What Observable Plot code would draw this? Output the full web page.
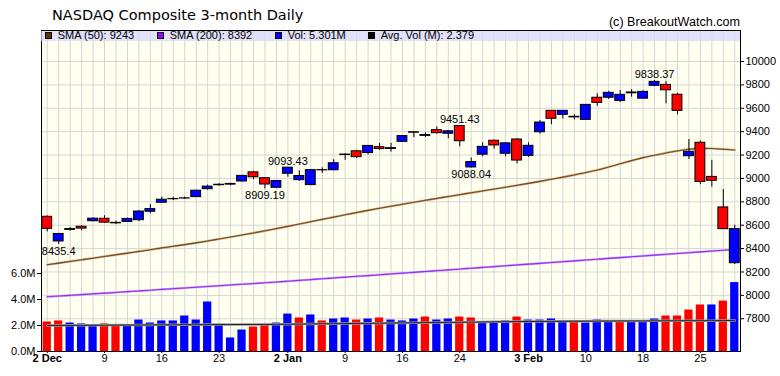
<!DOCTYPE html>
<html><head><meta charset="utf-8">
<script src="https://cdn.jsdelivr.net/npm/d3@7"></script>
<script src="https://cdn.jsdelivr.net/npm/@observablehq/plot@0.6"></script>
<style>
body{margin:0;background:#fff;}
#chart{position:relative;width:780px;height:376px;overflow:hidden;font-family:"Liberation Sans",Arial,sans-serif;}
#chart svg{position:absolute;left:0;top:0;}
.title{position:absolute;left:52px;top:7.5px;font:14.5px "DejaVu Sans";line-height:14px;color:#000;white-space:nowrap;}
.copy{position:absolute;right:40px;top:16px;font:12.6px "Liberation Sans";line-height:12px;color:#000;white-space:nowrap;}
.band{position:absolute;left:41px;top:31px;width:699px;height:10px;background:rgba(215,215,250,0.75);z-index:5;}
.item{position:absolute;top:0;height:10px;}
.sw{position:absolute;left:0;top:1px;width:5px;height:5px;border:1px solid #000;}
.lt{position:absolute;left:12.7px;top:-1.3px;font:11px "Liberation Sans";line-height:11px;white-space:nowrap;color:#000;}
</style></head>
<body>
<div id="chart">
  <div class="title">NASDAQ Composite 3-month Daily</div>
  <div class="copy">(c) BreakoutWatch.com</div>
</div>
<script>
// ---- data ----
const dates = ["2 Dec","3 Dec","4 Dec","5 Dec","6 Dec","9 Dec","10 Dec","11 Dec","12 Dec","13 Dec",
  "16 Dec","17 Dec","18 Dec","19 Dec","20 Dec","23 Dec","24 Dec","26 Dec","27 Dec","30 Dec","31 Dec",
  "2 Jan","3 Jan","6 Jan","7 Jan","8 Jan","9 Jan","10 Jan","13 Jan","14 Jan","15 Jan","16 Jan","17 Jan",
  "21 Jan","22 Jan","23 Jan","24 Jan","27 Jan","28 Jan","29 Jan","30 Jan","31 Jan",
  "3 Feb","4 Feb","5 Feb","6 Feb","7 Feb","10 Feb","11 Feb","12 Feb","13 Feb","14 Feb",
  "18 Feb","19 Feb","20 Feb","21 Feb","24 Feb","25 Feb","26 Feb","27 Feb","28 Feb"];
const open  = [8672,8461,8560,8587,8634,8655,8620,8628,8643,8715,8792,8822,8830,8840,8908,8942,8947,8974,9052,9002,8920,
  9040,8985,8943,9071,9070,9200,9232,9217,9267,9252,9313,9395,9364,9413,9382,9448,9094,9203,9322,9211,9333,
  9193,9395,9578,9544,9522,9501,9690,9690,9663,9728,9682,9792,9800,9716,9190,9305,9013,8752,8275];
const high  = [8680,8530,8580,8597,8664,8681,8636,8660,8725,8777,8840,8840,8840,8900,8942,8956,8957,9023,9060,9006,8980,
  9093.43,9065,9072,9091,9160,9211,9240,9280,9300,9300,9360,9398,9390,9440,9410,9451.43,9175,9305,9330,9305,9338,
  9305,9495,9578,9578,9545,9630,9724,9745,9752,9758,9750,9838.37,9828,9728,9333,9320,9155,8905,8600];
const low   = [8543,8435.4,8550,8552,8630,8615,8605,8625,8630,8698,8790,8810,8821,8838,8900,8935,8937,8970,8988,8909.19,8915,
  9010,8975,8943,9043,9065,9155,9170,9200,9240,9225,9310,9348,9350,9380,9339,9270,9088.04,9185,9250,9185,9125,
  9180,9378,9459,9507,9500,9500,9617,9675,9650,9695,9680,9785,9638,9544,9162,8946,8925,8563,8264];
const close = [8569,8525,8567,8571,8656,8622,8616,8654,8717,8738,8818,8824,8828,8895,8930,8946,8953,9022,9010,8948,8978,
  9092,9021,9071,9069,9130,9204,9182,9278,9251,9259,9362,9391,9371,9387,9403,9318,9140,9270,9282,9300,9153,
  9279,9478,9510,9578,9527,9629,9646,9732,9715,9735,9740,9826,9754,9578,9228,8970,8980,8566,8567];
const priorClose = 8665;
const volume = [2.27,2.35,2.19,2.12,2.04,2.12,2.04,1.96,2.42,2.19,2.35,2.35,2.73,2.42,3.81,2.06,1.04,1.65,1.88,2.06,2.19,
  2.88,2.58,2.81,2.35,2.50,2.58,2.42,2.50,2.58,2.42,2.35,2.50,2.65,2.42,2.50,2.65,2.58,2.22,2.24,2.35,2.65,
  2.42,2.42,2.50,2.27,2.27,2.19,2.42,2.35,2.27,2.27,2.27,2.50,2.73,2.73,3.19,3.58,3.58,3.88,5.301];
const sma50 = [8262,8276,8290,8304,8318,8333,8347,8361,8376,8390,8406,8420,8434,8449,8465,8482,8499,8516,8534,8552,8571,
  8590,8610,8630,8650,8669,8689,8708,8727,8745,8762,8779,8796,8813,8829,8845,8861,8877,8893,8909,8925,8941,
  8958,8975,8993,9011,9030,9050,9072,9098,9125,9152,9178,9198,9218,9235,9250,9257,9256,9250,9243];
const sma200 = [7988,7994,8000,8006,8013,8019,8025,8032,8038,8044,8051,8057,8063,8070,8076,8082,8089,8095,8101,8108,8114,
  8121,8128,8135,8142,8149,8156,8163,8169,8176,8183,8190,8197,8204,8211,8218,8225,8232,8239,8246,8253,8260,
  8267,8274,8281,8288,8295,8302,8309,8316,8323,8330,8337,8344,8351,8358,8365,8372,8379,8386,8392];
const avgVol = [2.00,2.00,2.01,2.01,2.02,2.02,2.03,2.03,2.04,2.04,2.05,2.05,2.06,2.06,2.07,2.07,2.07,2.08,2.08,2.08,2.09,
  2.10,2.11,2.12,2.13,2.14,2.15,2.16,2.17,2.18,2.19,2.20,2.21,2.22,2.23,2.24,2.25,2.26,2.27,2.28,2.29,2.30,
  2.31,2.31,2.32,2.32,2.33,2.33,2.34,2.34,2.35,2.35,2.35,2.36,2.36,2.36,2.37,2.37,2.37,2.38,2.379];
const priceTicks = [7800,8000,8200,8400,8600,8800,9000,9200,9400,9600,9800,10000];
const volTicks = [0,2,4,6];
const xTickIdx = [0,5,10,15,21,26,31,36,42,47,52,57];
const xTickLabels = ["2 Dec","9","16","23","2 Jan","9","16","24","3 Feb","10","18","25"];
const xTickBold = [true,false,false,false,true,false,false,false,true,false,false,false];
const highLabels = [{i:21,v:9093.43},{i:36,v:9451.43},{i:53,v:9838.37}];
const lowLabels  = [{i:1,v:8435.4},{i:19,v:8909.19},{i:37,v:9088.04}];

// ---- build ----
const rows = dates.map((d,i)=>({i, o:open[i], h:high[i], l:low[i], c:close[i], v:volume[i],
  s50:sma50[i], s200:sma200[i], av:avgVol[i], up: close[i] > (i ? close[i-1] : priorClose)}));
const N = dates.length;
const common = {width:780, height:376, marginLeft:41, marginRight:40, marginTop:30, marginBottom:25,
  x:{domain:[-0.5, N-0.5], axis:null, label:null}};
const style = {background:"transparent", fontFamily:"Liberation Sans, Arial, sans-serif", fontSize:"11px", color:"#000", overflow:"visible"};
const tickLab = xTickIdx.map((x,k)=>({x, t:xTickLabels[k], b:xTickBold[k]}));

const price = Plot.plot({...common, style,
  y:{domain:[7520,10265], axis:null, label:null},
  marks:[
    Plot.frame({fill:"#fffff0"}),
    Plot.ruleX(rows, {x:"i", stroke:"#d6d6d6"}),
    Plot.ruleY(priceTicks, {stroke:"#d6d6d6"}),
    Plot.line(rows, {x:"i", y:"s200", stroke:"#c9a0ff", strokeWidth:2.2, curve:"monotone-x"}),
    Plot.line(rows, {x:"i", y:"s200", stroke:"#9a2cf0", strokeWidth:1.1, curve:"monotone-x"}),
    Plot.line(rows, {x:"i", y:"s50", stroke:"#c8aa88", strokeWidth:2.2, curve:"monotone-x"}),
    Plot.line(rows, {x:"i", y:"s50", stroke:"#7a4a1e", strokeWidth:1.1, curve:"monotone-x"}),
    Plot.ruleX(rows, {x:"i", y1:"l", y2:"h", stroke:"#000"}),
    Plot.rect(rows, {x1:d=>d.i-0.43, x2:d=>d.i+0.43, y1:"o", y2:"c",
      fill:d=>d.c>=d.o?"#0000ff":"#ff0000", stroke:"#000", strokeWidth:1}),
    Plot.text(highLabels, {x:"i", y:"v", text:d=>String(d.v), lineAnchor:"bottom", dy:-2.5, fontSize:11, fill:"#000"}),
    Plot.text(lowLabels, {x:"i", y:"v", text:d=>String(d.v), lineAnchor:"top", dy:2.5, fontSize:11, fill:"#000"}),
    Plot.axisY(priceTicks, {anchor:"right", label:null, tickSize:3, tickPadding:2, tickFormat:d=>String(d), fontSize:11}),
    Plot.axisX(tickLab.filter(d=>!d.b).map(d=>d.x), {anchor:"bottom", label:null, tickSize:2, tickPadding:1,
      tickFormat:d=>tickLab.find(t=>t.x===d).t, fontSize:11}),
    Plot.axisX(tickLab.filter(d=>d.b).map(d=>d.x), {anchor:"bottom", label:null, tickSize:2, tickPadding:1,
      tickFormat:d=>tickLab.find(t=>t.x===d).t, fontSize:11, fontWeight:"bold"})
  ]
});

const vol = Plot.plot({...common, style,
  y:{domain:[0, 321/13], axis:null, label:null},
  marks:[
    Plot.rect(rows, {x1:d=>d.i-0.36, x2:d=>d.i+0.36, y1:0, y2:"v", fill:d=>d.up?"#0000ff":"#ff0000"}),
    Plot.line(rows, {x:"i", y:"av", stroke:"#999", strokeWidth:2.5}),
    Plot.line(rows, {x:"i", y:"av", stroke:"#222", strokeWidth:1}),
    Plot.axisY(volTicks, {anchor:"left", label:null, tickSize:4, tickPadding:2, tickFormat:d=>d.toFixed(1)+"M", fontSize:11}),
    Plot.frame({stroke:"#000"})
  ]
});

const chart = document.getElementById("chart");
chart.appendChild(price);
chart.appendChild(vol);

// legend band
const last = N-1;
const legend = [
  {x:4,   c:"#663300", t:`SMA (50): ${sma50[last]}`},
  {x:116, c:"#9900ff", t:`SMA (200): ${sma200[last]}`},
  {x:234, c:"#0000ff", t:`Vol: ${volume[last].toFixed(3)}M`},
  {x:327, c:"#000000", t:`Avg. Vol (M): ${avgVol[last].toFixed(3)}`}
];
const band = document.createElement("div");
band.className = "band";
legend.forEach(l=>{
  const it = document.createElement("div");
  it.className = "item"; it.style.left = l.x+"px";
  it.innerHTML = `<div class="sw" style="background:${l.c}"></div><div class="lt">${l.t}</div>`;
  band.appendChild(it);
});
chart.appendChild(band);
</script>
</body></html>
